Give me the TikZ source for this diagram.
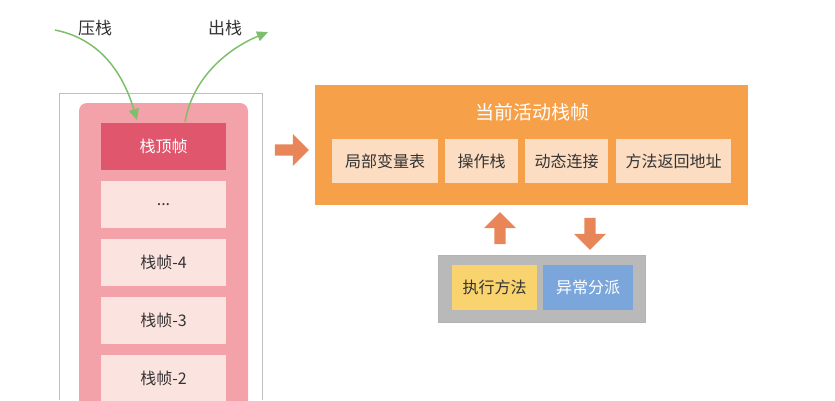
\documentclass[tikz,border=0pt]{standalone}
\usepackage{fontspec}
\setmainfont{Noto Sans CJK SC}
\usetikzlibrary{arrows.meta,shapes.arrows}
\definecolor{pinkbase}{HTML}{F2A2A8}
\definecolor{pinktop}{HTML}{E0566C}
\definecolor{pinklight}{HTML}{FBE4E0}
\definecolor{orng}{HTML}{F7A04A}
\definecolor{orlight}{HTML}{FCDDC2}
\definecolor{grn}{HTML}{7DBF6A}
\definecolor{yel}{HTML}{F8D36E}
\definecolor{blu}{HTML}{7BA6DC}
\definecolor{gry}{HTML}{B9B9B9}
\definecolor{arr}{HTML}{E8865A}
\tikzset{
  frame/.style={fill=pinklight,draw=none,minimum width=125pt,minimum height=47pt,font=\fontsize{16}{18}\selectfont,text=black!80},
  sub/.style={fill=orlight,minimum height=44pt,inner sep=1pt,font=\fontsize{16}{18}\selectfont,text=black!80},
  fat/.style={single arrow,draw=none,minimum height=34pt,minimum width=32pt,single arrow head extend=6pt,inner sep=3pt},
  grarrow/.style={draw=grn,line width=1.5pt,-{Triangle[length=11pt,width=10pt]}}
}
\begin{document}
\begin{tikzpicture}[x=1pt,y=-1pt]
\useasboundingbox (0,0) rectangle (835,400);
\draw[gray!50,line width=0.5pt] (59,93) -- (59,400) (59,93) -- (262,93) -- (262,400);
\fill[pinkbase,rounded corners=8pt] (79,103) rectangle (248,420);
\node[frame,fill=pinktop,text=white] (top) at (163.5,146.5) {栈顶帧};
\node[frame] (dots) at (163.5,204.5) {...};
\node[frame] (f4) at (163.5,262.5) {栈帧-4};
\node[frame] (f3) at (163.5,320.5) {栈帧-3};
\node[frame] (f2) at (163.5,378.5) {栈帧-2};
\node[font=\fontsize{17}{19}\selectfont,text=black!80] (push) at (95,28) {压栈};
\node[font=\fontsize{17}{19}\selectfont,text=black!80] (pop) at (225,28) {出栈};
\coordinate (ps) at (55,30);
\coordinate (pe) at (137,120);
\coordinate (qs) at (185,122);
\coordinate (qe) at (268,32);
\draw[grarrow] (ps) .. controls (105,40) and (125,80) .. (pe);
\draw[grarrow] (qs) .. controls (192,80) and (225,50) .. (qe);
\node[fat,fill=arr,shape border rotate=0] (ra) at (289,150) {};
\fill[orng] (315,85) rectangle (748,205);
\node[font=\fontsize{19}{21}\selectfont,text=white] (title) at (532,112) {当前活动栈帧};
\node[sub,minimum width=106pt] (s1) at (385,161) {局部变量表};
\node[sub,minimum width=73pt] (s2) at (481.5,161) {操作栈};
\node[sub,minimum width=83pt] (s3) at (566.5,161) {动态连接};
\node[sub,minimum width=115pt] (s4) at (673.5,161) {方法返回地址};
\node[fat,fill=arr,shape border rotate=90,minimum height=32pt] (ua) at (500,231) {};
\node[fat,fill=arr,shape border rotate=270,minimum height=32pt] (da) at (590,231) {};
\fill[gry] (438,255) rectangle (645,322);
\draw[gray!60] (438,255) rectangle (645,322);
\node[fill=yel,minimum width=85pt,minimum height=45pt,font=\fontsize{16}{18}\selectfont,text=black!80] (exe) at (494.5,287.5) {执行方法};
\node[fill=blu,minimum width=90pt,minimum height=45pt,font=\fontsize{16}{18}\selectfont,text=white] (exc) at (588,287.5) {异常分派};
\end{tikzpicture}
\end{document}
